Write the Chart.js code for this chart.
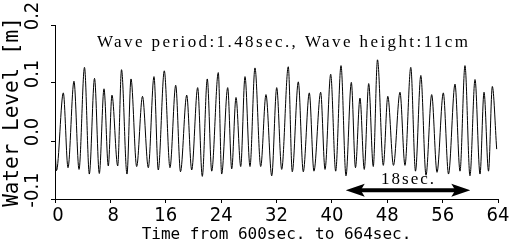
<!DOCTYPE html>
<html>
<head>
<meta charset="utf-8">
<script src="https://cdn.jsdelivr.net/npm/chart.js@4.4.1/dist/chart.umd.min.js"></script>
<style>
  body { margin: 0; background: #fff; }
  canvas { display: block; }
</style>
</head>
<body>
<canvas id="waveChart" width="513" height="244"></canvas>
<script>
// time from 600 sec (s) and water level (m), crests and troughs
const waveTimes = [0, 0.22,
  1.20, 1.88, 2.74, 3.47, 4.26, 4.96, 5.71, 6.40, 7.08, 7.70, 8.23, 9.06, 9.61, 10.40,
  10.98, 11.80, 12.64, 13.48, 14.30, 14.92, 15.79, 16.61, 17.44, 18.13, 19.03, 19.75,
  20.61, 21.28, 22.00, 22.64, 23.59, 24.08, 24.95, 25.53, 26.15, 26.83, 27.45, 28.17,
  28.89, 29.72, 30.48, 31.31, 32.03, 32.75, 33.70, 34.28, 35.15, 35.87, 36.74, 37.41,
  38.38, 39.01, 39.83, 40.55, 41.32, 42.04, 42.81, 43.41, 44.06, 44.68, 45.32, 45.98,
  46.59, 47.43, 48.08, 48.90, 49.84, 50.56, 51.40, 52.08, 52.85, 53.60, 54.42, 55.19,
  56.10, 56.85, 57.79, 58.51, 59.23, 59.95, 60.68, 61.40, 61.98, 62.63, 63.18, 63.81];
const waveLevels = [-0.014, -0.051,
  0.083, -0.046, 0.103, -0.049, 0.127, -0.057, 0.108, -0.056, 0.090, -0.043, 0.079, -0.043,
  0.123, -0.057, 0.107, -0.044, 0.077, -0.046, 0.111, -0.050, 0.121, -0.046, 0.096, -0.053,
  0.079, -0.050, 0.092, -0.061, 0.107, -0.052, 0.118, -0.057, 0.092, -0.048, 0.075, -0.044,
  0.111, -0.044, 0.126, -0.044, 0.080, -0.060, 0.092, -0.049, 0.128, -0.053, 0.102, -0.053,
  0.083, -0.052, 0.084, -0.049, 0.115, -0.052, 0.130, -0.060, 0.101, -0.046, 0.074, -0.049,
  0.099, -0.044, 0.140, -0.042, 0.077, -0.042, 0.084, -0.042, 0.127, -0.052, 0.113, -0.059,
  0.080, -0.054, 0.083, -0.057, 0.098, -0.052, 0.130, -0.060, 0.106, -0.057, 0.084, -0.052,
  0.094, -0.014];

const titleText = "Wave period:1.48sec., Wave height:11cm";
const spanLabel = "18sec.";
const spanStart = 42;   // s
const spanEnd = 60;     // s
const spanLevel = -0.085;

const gothic = "'DejaVu Sans Mono', monospace";
const narrow = "'Liberation Sans Narrow', 'DejaVu Sans Condensed', 'Noto Sans', sans-serif";
const mincho = "'Liberation Serif', 'DejaVu Serif', serif";

// text drawn with a fixed overall width (the original uses a monospaced font)
function spacedText(ctx, text, x, y, width) {
  ctx.letterSpacing = "0px";
  const natural = ctx.measureText(text).width;
  const gap = (width - natural) / (text.length - 1);
  ctx.letterSpacing = gap + "px";
  ctx.textAlign = "left";
  ctx.fillText(text, x, y);
  ctx.letterSpacing = "0px";
}

const annotations = {
  id: "annotations",
  afterDraw(chart) {
    const ctx = chart.ctx;
    const xs = chart.scales.x, ys = chart.scales.y;
    ctx.save();
    ctx.fillStyle = "#000";
    ctx.font = "17px " + mincho;
    ctx.textBaseline = "alphabetic";
    spacedText(ctx, titleText, 97, 47, 371);

    // 18 sec double arrow
    const x1 = xs.getPixelForValue(spanStart);
    const x2 = xs.getPixelForValue(spanEnd);
    const y = ys.getPixelForValue(spanLevel);
    ctx.strokeStyle = "#000";
    ctx.lineWidth = 4;
    ctx.beginPath();
    ctx.moveTo(x1 + 10, y);
    ctx.lineTo(x2 - 10, y);
    ctx.stroke();
    ctx.beginPath();
    ctx.moveTo(x1, y);
    ctx.lineTo(x1 + 19, y - 6.5);
    ctx.lineTo(x1 + 15, y);
    ctx.lineTo(x1 + 19, y + 6.5);
    ctx.closePath();
    ctx.moveTo(x2, y);
    ctx.lineTo(x2 - 19, y - 6.5);
    ctx.lineTo(x2 - 15, y);
    ctx.lineTo(x2 - 19, y + 6.5);
    ctx.closePath();
    ctx.fill();

    const mid = (x1 + x2) / 2;
    spacedText(ctx, spanLabel, mid - 27, y - 6, 53);
    ctx.restore();
  }
};

const points = waveTimes.map((t, i) => ({ x: t, y: waveLevels[i] }));

new Chart(document.getElementById("waveChart"), {
  type: "line",
  data: {
    datasets: [{
      data: points,
      borderColor: "#000",
      borderWidth: 1,
      pointRadius: 0,
      fill: false,
      cubicInterpolationMode: "monotone"
    }]
  },
  options: {
    responsive: false,
    animation: false,
    layout: { padding: { top: 25, right: 15, left: 0, bottom: 0 } },
    plugins: { legend: { display: false }, tooltip: { enabled: false } },
    scales: {
      x: {
        type: "linear",
        min: 0,
        max: 64,
        afterFit: s => { s.height = 45; },
        border: { display: true, color: "#000", width: 1 },
        grid: { drawOnChartArea: false, drawTicks: true, tickLength: 4, color: "#000" },
        ticks: {
          stepSize: 8,
          padding: 1,
          color: "#000",
          maxRotation: 0,
          font: { family: narrow, size: 20 },
          callback: v => String(v).padStart(2, " ")
        },
        title: {
          display: true,
          text: "Time from 600sec. to 664sec.",
          color: "#000",
          font: { family: gothic, size: 16 },
          padding: { top: -4, bottom: 0 }
        }
      },
      y: {
        min: -0.1,
        max: 0.2,
        afterFit: s => { s.width = 55; },
        border: { display: true, color: "#000", width: 1 },
        grid: { drawOnChartArea: false, drawTicks: true, tickLength: 4, color: "#000" },
        ticks: {
          stepSize: 0.1,
          minRotation: 90,
          maxRotation: 90,
          crossAlign: "center",
          labelOffset: -9,
          padding: 1,
          color: "#000",
          font: { family: narrow, size: 20 },
          callback: v => Number(v).toFixed(1)
        },
        title: {
          display: true,
          text: "Water Level [m]",
          color: "#000",
          font: { family: gothic, size: 21 },
          padding: { top: 0, bottom: 0 }
        }
      }
    }
  },
  plugins: [annotations]
});
</script>
</body>
</html>
